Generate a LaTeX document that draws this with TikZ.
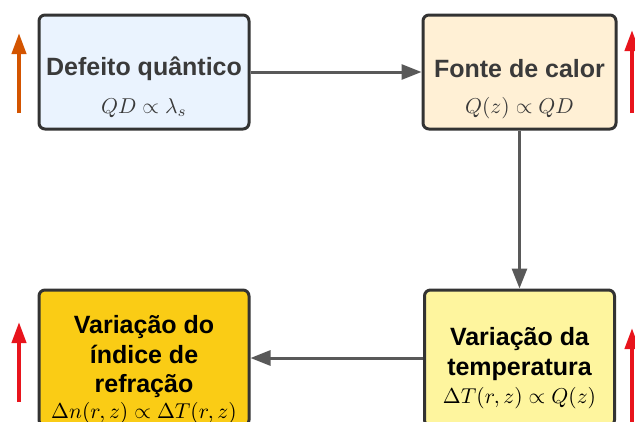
\documentclass[tikz,border=0pt]{standalone}
\usepackage{fontspec}
\setmainfont{Liberation Sans}
\usetikzlibrary{arrows.meta}

\definecolor{boxline}{HTML}{333333}
\definecolor{headgray}{HTML}{3A3A3A}
\definecolor{flowgray}{HTML}{595959}
\definecolor{defeitofill}{HTML}{EAF3FE}
\definecolor{fontefill}{HTML}{FFF0D5}
\definecolor{indicefill}{HTML}{FACC15}
\definecolor{tempfill}{HTML}{FEF59E}
\definecolor{riseorange}{HTML}{D35400}
\definecolor{risered}{HTML}{E8141C}

\begin{document}
\begin{tikzpicture}[x=1pt, y=-1pt,
  box/.style={draw=boxline, line width=3pt, rounded corners=6pt, inner sep=0pt},
  head/.style={font=\bfseries\fontsize{25}{29.5}\selectfont, align=center, inner sep=0pt},
  eq/.style={scale=2.15, inner sep=0pt},
  flow/.style={draw=flowgray, line width=3pt, -{Triangle[length=20pt,width=15pt]}},
  rise/.style={line width=4pt, -{Triangle[length=21pt,width=14pt]}}]
  \useasboundingbox (0,0) rectangle (635,421);
  \clip (0,0) rectangle (635,421);

  % boxes
  \node[box, fill=defeitofill, minimum width=210, minimum height=114] (defeito) at (144,72) {};
  \node[box, fill=fontefill, minimum width=193, minimum height=114] (fonte) at (519.5,72) {};
  \node[box, fill=indicefill, minimum width=210, minimum height=136] (indice) at (144,358) {};
  \node[box, fill=tempfill, minimum width=190, minimum height=136] (temp) at (519.5,358) {};

  % texts
  \node[head, text=headgray] (defeitotxt) at (144,69) {Defeito quântico};
  \node[eq, text=headgray] (defeitoeq) at (144,108) {$QD\propto\lambda_s$};
  \node[head, text=headgray] (fontetxt) at (519.5,69) {Fonte de calor};
  \node[eq, text=headgray] (fonteeq) at (519.5,108) {$Q(z)\propto QD$};
  \node[head] (indicetxt) at (144,357) {Variação do\\índice de\\refração};
  \node[eq] (indiceeq) at (144,413) {$\Delta n(r,z)\propto\Delta T(r,z)$};
  \node[head] (temptxt) at (519.5,354) {Variação da\\temperatura};
  \node[eq] (tempeq) at (519.5,398) {$\Delta T(r,z)\propto Q(z)$};

  % flow
  \draw[flow] (defeito) -- (fonte);
  \draw[flow] (fonte) -- (temp);
  \draw[flow] (temp) -- (indice);

  % side arrows
  \draw[rise, riseorange] (19,113) -- (19,33);
  \draw[rise, risered] (19,402) -- (19,322);
  \draw[rise, risered] (632,113) -- (632,30);
  \draw[rise, risered] (632,440) -- (632,328);
\end{tikzpicture}
\end{document}
